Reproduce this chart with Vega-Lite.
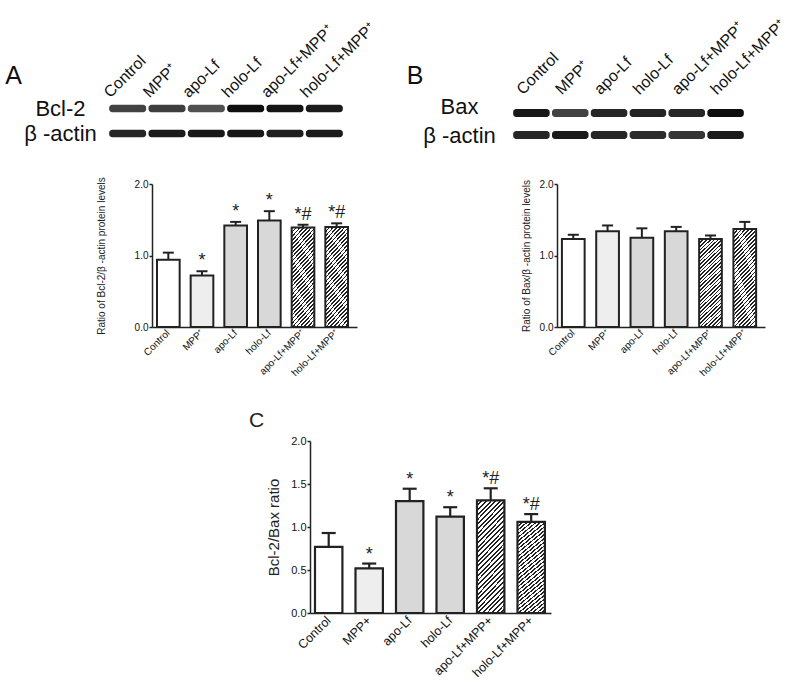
{
  "$schema": "https://vega.github.io/schema/vega-lite/v6.json",
  "padding": {"left": 3, "top": 16, "right": 5, "bottom": 5},
  "config": {
    "view": {"stroke": null},
    "font": "Liberation Sans",
    "axis": {"grid": false, "labelFont": "Liberation Sans", "titleFont": "Liberation Sans", "labelColor": "#111", "titleColor": "#222", "domainColor": "#222", "tickColor": "#222", "titleFontWeight": "normal", "labelOverlap": false},
    "text": {"font": "Liberation Sans"},
    "title": {"font": "Liberation Sans"}
  },
  "datasets": {
    "blotA": [
      {"lane": "Control", "protein": "Bcl-2", "intensity": 0.72},
      {"lane": "MPP⁺", "protein": "Bcl-2", "intensity": 0.74},
      {"lane": "apo-Lf", "protein": "Bcl-2", "intensity": 0.66},
      {"lane": "holo-Lf", "protein": "Bcl-2", "intensity": 0.96},
      {"lane": "apo-Lf+MPP⁺", "protein": "Bcl-2", "intensity": 0.93},
      {"lane": "holo-Lf+MPP⁺", "protein": "Bcl-2", "intensity": 0.9},
      {"lane": "Control", "protein": "β -actin", "intensity": 0.85},
      {"lane": "MPP⁺", "protein": "β -actin", "intensity": 0.9},
      {"lane": "apo-Lf", "protein": "β -actin", "intensity": 0.92},
      {"lane": "holo-Lf", "protein": "β -actin", "intensity": 0.92},
      {"lane": "apo-Lf+MPP⁺", "protein": "β -actin", "intensity": 0.88},
      {"lane": "holo-Lf+MPP⁺", "protein": "β -actin", "intensity": 0.9}
    ],
    "blotB": [
      {"lane": "Control", "protein": "Bax", "intensity": 0.92},
      {"lane": "MPP⁺", "protein": "Bax", "intensity": 0.72},
      {"lane": "apo-Lf", "protein": "Bax", "intensity": 0.85},
      {"lane": "holo-Lf", "protein": "Bax", "intensity": 0.86},
      {"lane": "apo-Lf+MPP⁺", "protein": "Bax", "intensity": 0.85},
      {"lane": "holo-Lf+MPP⁺", "protein": "Bax", "intensity": 0.96},
      {"lane": "Control", "protein": "β -actin", "intensity": 0.85},
      {"lane": "MPP⁺", "protein": "β -actin", "intensity": 0.9},
      {"lane": "apo-Lf", "protein": "β -actin", "intensity": 0.85},
      {"lane": "holo-Lf", "protein": "β -actin", "intensity": 0.82},
      {"lane": "apo-Lf+MPP⁺", "protein": "β -actin", "intensity": 0.78},
      {"lane": "holo-Lf+MPP⁺", "protein": "β -actin", "intensity": 0.9}
    ],
    "barA": [
      {"group": "Control", "value": 0.94, "hi": 1.04, "sig": ""},
      {"group": "MPP⁺", "value": 0.72, "hi": 0.78, "sig": "*"},
      {"group": "apo-Lf", "value": 1.42, "hi": 1.47, "sig": "*"},
      {"group": "holo-Lf", "value": 1.49, "hi": 1.62, "sig": "*"},
      {"group": "apo-Lf+MPP⁺", "value": 1.39, "hi": 1.43, "sig": "*#"},
      {"group": "holo-Lf+MPP⁺", "value": 1.4, "hi": 1.45, "sig": "*#"}
    ],
    "barB": [
      {"group": "Control", "value": 1.23, "hi": 1.29, "sig": ""},
      {"group": "MPP⁺", "value": 1.34, "hi": 1.42, "sig": ""},
      {"group": "apo-Lf", "value": 1.25, "hi": 1.38, "sig": ""},
      {"group": "holo-Lf", "value": 1.34, "hi": 1.4, "sig": ""},
      {"group": "apo-Lf+MPP⁺", "value": 1.23, "hi": 1.28, "sig": ""},
      {"group": "holo-Lf+MPP⁺", "value": 1.37, "hi": 1.47, "sig": ""}
    ],
    "barC": [
      {"group": "Control", "value": 0.77, "hi": 0.93, "sig": ""},
      {"group": "MPP+", "value": 0.52, "hi": 0.575, "sig": "*"},
      {"group": "apo-Lf", "value": 1.3, "hi": 1.445, "sig": "*"},
      {"group": "holo-Lf", "value": 1.12, "hi": 1.23, "sig": "*"},
      {"group": "apo-Lf+MPP+", "value": 1.31, "hi": 1.45, "sig": "*#"},
      {"group": "holo-Lf+MPP+", "value": 1.06, "hi": 1.15, "sig": "*#"}
    ]
  },
  "spacing": 25,
  "vconcat": [
    {
      "spacing": 0,
      "hconcat": [
        {"width": 1, "height": 1, "data": {"values": [{}]}, "mark": {"type": "rect", "opacity": 0}, "encoding": {}},
        {
          "spacing": 28,
          "hconcat": [
            {
              "width": 236, "height": 54.5,
              "data": {"name": "blotA"},
              "mark": {"type": "rect", "cornerRadius": 3},
              "encoding": {
                "x": {"field": "lane", "type": "nominal", "sort": null, "scale": {"paddingInner": 0.06, "paddingOuter": 0.03},
                  "axis": {"orient": "top", "title": null, "labelAngle": -45, "labelAlign": "left", "labelBaseline": "middle", "labelOffset": -21, "labelPadding": 1.5, "ticks": false, "tickSize": 0, "domain": false, "labelFontSize": 16, "labelColor": "#111"}},
                "y": {"field": "protein", "type": "nominal", "sort": null, "scale": {"paddingInner": 0.7, "paddingOuter": 0.44, "align": 0.398},
                  "axis": {"title": "A", "titleAngle": 0, "titleX": -95, "titleY": -13, "titleAlign": "center", "titleBaseline": "alphabetic", "titleFontSize": 25, "titleColor": "#111", "labelAlign": "center", "labelBaseline": "middle", "labelPadding": 48, "labelFontSize": 22, "labelColor": "#111", "ticks": false, "tickSize": 0, "domain": false}},
                "color": {"field": "intensity", "type": "quantitative", "scale": {"domain": [0, 1], "range": ["#ffffff", "#000000"]}, "legend": null}
              }
            },
            {
              "width": 233, "height": 54.5,
              "data": {"name": "blotB"},
              "mark": {"type": "rect", "cornerRadius": 3},
              "encoding": {
                "x": {"field": "lane", "type": "nominal", "sort": null, "scale": {"paddingInner": 0.06, "paddingOuter": 0.03},
                  "axis": {"orient": "top", "title": null, "labelAngle": -45, "labelAlign": "left", "labelBaseline": "middle", "labelOffset": -12, "labelPadding": 4.5, "ticks": false, "tickSize": 0, "domain": false, "labelFontSize": 16, "labelColor": "#111"}},
                "y": {"field": "protein", "type": "nominal", "sort": null, "scale": {"paddingInner": 0.636, "paddingOuter": 0.557, "align": 0.531},
                  "axis": {"title": "B", "titleAngle": 0, "titleX": -97.5, "titleY": -13, "titleAlign": "center", "titleBaseline": "alphabetic", "titleFontSize": 25, "titleColor": "#111", "labelAlign": "center", "labelBaseline": "middle", "labelPadding": 53, "labelFontSize": 22, "labelColor": "#111", "labelOffset": {"condition": {"test": "datum.value === 'Bax'", "value": -6}, "value": 1}, "ticks": false, "tickSize": 0, "domain": false}},
                "color": {"field": "intensity", "type": "quantitative", "scale": {"domain": [0, 1], "range": ["#ffffff", "#000000"]}, "legend": null}
              }
            }
          ]
        }
      ]
    },
    {
      "spacing": 0,
      "hconcat": [
        {"width": 93, "height": 201, "data": {"values": [{}]}, "mark": {"type": "rect", "opacity": 0}, "encoding": {}},
        {
          "spacing": 164,
          "hconcat": [
            {
              "width": 205, "height": 143,
              "data": {"name": "barA"},
              "encoding": {
                "x": {"field": "group", "type": "nominal", "sort": null, "scale": {"paddingInner": 0.327, "paddingOuter": 0.208, "align": 0.357},
                  "axis": {"title": null, "labelAngle": -45, "labelAlign": "right", "labelBaseline": "middle", "labelFontSize": 10, "labelPadding": 4, "ticks": false, "tickSize": 0, "domainWidth": 1.5}}
              },
              "layer": [
                {
                  "mark": {"type": "bar", "stroke": "#222", "strokeWidth": 2},
                  "encoding": {
                    "y": {"field": "value", "type": "quantitative", "title": "Ratio of Bcl-2/β -actin protein levels", "scale": {"domain": [0, 2], "nice": false},
                      "axis": {"values": [0, 0.5, 1, 1.5, 2], "format": ".1f", "labelFontSize": 10, "tickSize": 3, "tickWidth": 1.5, "domainWidth": 1.5, "labelPadding": 1, "titleFontSize": 10, "titlePadding": 28}},
                    "fill": {
                      "condition": [
                        {"test": "datum.group === 'Control'", "value": "#ffffff"},
                        {"test": "datum.group === 'MPP⁺'", "value": "#eeeeee"},
                        {"test": "datum.group === 'apo-Lf' || datum.group === 'holo-Lf'", "value": "#d8d8d8"}
                      ],
                      "value": {"gradient": "linear", "x1": 0, "y1": 0, "x2": 0.294, "y2": 1.176, "stops": [
                        {"offset":0,"color":"#222"},{"offset":0.014,"color":"#222"},{"offset":0.014,"color":"#fff"},{"offset":0.0333,"color":"#fff"},
                        {"offset":0.0333,"color":"#222"},{"offset":0.0473,"color":"#222"},{"offset":0.0473,"color":"#fff"},{"offset":0.0667,"color":"#fff"},
                        {"offset":0.0667,"color":"#222"},{"offset":0.0807,"color":"#222"},{"offset":0.0807,"color":"#fff"},{"offset":0.1,"color":"#fff"},
                        {"offset":0.1,"color":"#222"},{"offset":0.114,"color":"#222"},{"offset":0.114,"color":"#fff"},{"offset":0.1333,"color":"#fff"},
                        {"offset":0.1333,"color":"#222"},{"offset":0.1473,"color":"#222"},{"offset":0.1473,"color":"#fff"},{"offset":0.1667,"color":"#fff"},
                        {"offset":0.1667,"color":"#222"},{"offset":0.1807,"color":"#222"},{"offset":0.1807,"color":"#fff"},{"offset":0.2,"color":"#fff"},
                        {"offset":0.2,"color":"#222"},{"offset":0.214,"color":"#222"},{"offset":0.214,"color":"#fff"},{"offset":0.2333,"color":"#fff"},
                        {"offset":0.2333,"color":"#222"},{"offset":0.2473,"color":"#222"},{"offset":0.2473,"color":"#fff"},{"offset":0.2667,"color":"#fff"},
                        {"offset":0.2667,"color":"#222"},{"offset":0.2807,"color":"#222"},{"offset":0.2807,"color":"#fff"},{"offset":0.3,"color":"#fff"},
                        {"offset":0.3,"color":"#222"},{"offset":0.314,"color":"#222"},{"offset":0.314,"color":"#fff"},{"offset":0.3333,"color":"#fff"},
                        {"offset":0.3333,"color":"#222"},{"offset":0.3473,"color":"#222"},{"offset":0.3473,"color":"#fff"},{"offset":0.3667,"color":"#fff"},
                        {"offset":0.3667,"color":"#222"},{"offset":0.3807,"color":"#222"},{"offset":0.3807,"color":"#fff"},{"offset":0.4,"color":"#fff"},
                        {"offset":0.4,"color":"#222"},{"offset":0.414,"color":"#222"},{"offset":0.414,"color":"#fff"},{"offset":0.4333,"color":"#fff"},
                        {"offset":0.4333,"color":"#222"},{"offset":0.4473,"color":"#222"},{"offset":0.4473,"color":"#fff"},{"offset":0.4667,"color":"#fff"},
                        {"offset":0.4667,"color":"#222"},{"offset":0.4807,"color":"#222"},{"offset":0.4807,"color":"#fff"},{"offset":0.5,"color":"#fff"},
                        {"offset":0.5,"color":"#222"},{"offset":0.514,"color":"#222"},{"offset":0.514,"color":"#fff"},{"offset":0.5333,"color":"#fff"},
                        {"offset":0.5333,"color":"#222"},{"offset":0.5473,"color":"#222"},{"offset":0.5473,"color":"#fff"},{"offset":0.5667,"color":"#fff"},
                        {"offset":0.5667,"color":"#222"},{"offset":0.5807,"color":"#222"},{"offset":0.5807,"color":"#fff"},{"offset":0.6,"color":"#fff"},
                        {"offset":0.6,"color":"#222"},{"offset":0.614,"color":"#222"},{"offset":0.614,"color":"#fff"},{"offset":0.6333,"color":"#fff"},
                        {"offset":0.6333,"color":"#222"},{"offset":0.6473,"color":"#222"},{"offset":0.6473,"color":"#fff"},{"offset":0.6667,"color":"#fff"},
                        {"offset":0.6667,"color":"#222"},{"offset":0.6807,"color":"#222"},{"offset":0.6807,"color":"#fff"},{"offset":0.7,"color":"#fff"},
                        {"offset":0.7,"color":"#222"},{"offset":0.714,"color":"#222"},{"offset":0.714,"color":"#fff"},{"offset":0.7333,"color":"#fff"},
                        {"offset":0.7333,"color":"#222"},{"offset":0.7473,"color":"#222"},{"offset":0.7473,"color":"#fff"},{"offset":0.7667,"color":"#fff"},
                        {"offset":0.7667,"color":"#222"},{"offset":0.7807,"color":"#222"},{"offset":0.7807,"color":"#fff"},{"offset":0.8,"color":"#fff"},
                        {"offset":0.8,"color":"#222"},{"offset":0.814,"color":"#222"},{"offset":0.814,"color":"#fff"},{"offset":0.8333,"color":"#fff"},
                        {"offset":0.8333,"color":"#222"},{"offset":0.8473,"color":"#222"},{"offset":0.8473,"color":"#fff"},{"offset":0.8667,"color":"#fff"},
                        {"offset":0.8667,"color":"#222"},{"offset":0.8807,"color":"#222"},{"offset":0.8807,"color":"#fff"},{"offset":0.9,"color":"#fff"},
                        {"offset":0.9,"color":"#222"},{"offset":0.914,"color":"#222"},{"offset":0.914,"color":"#fff"},{"offset":0.9333,"color":"#fff"},
                        {"offset":0.9333,"color":"#222"},{"offset":0.9473,"color":"#222"},{"offset":0.9473,"color":"#fff"},{"offset":0.9667,"color":"#fff"},
                        {"offset":0.9667,"color":"#222"},{"offset":0.9807,"color":"#222"},{"offset":0.9807,"color":"#fff"},{"offset":1,"color":"#fff"}
                      ]}
                    }
                  }
                },
                {"mark": {"type": "rule", "stroke": "#222", "strokeWidth": 2}, "encoding": {"y": {"field": "value", "type": "quantitative", "title": "Ratio of Bcl-2/β -actin protein levels"}, "y2": {"field": "hi"}}},
                {"mark": {"type": "tick", "orient": "horizontal", "size": 11, "thickness": 2, "color": "#222", "opacity": 1}, "encoding": {"y": {"field": "hi", "type": "quantitative", "title": "Ratio of Bcl-2/β -actin protein levels"}}},
                {"mark": {"type": "text", "fontSize": 18, "dy": -5, "baseline": "alphabetic", "align": "center", "color": "#222"}, "encoding": {"y": {"field": "hi", "type": "quantitative", "title": "Ratio of Bcl-2/β -actin protein levels"}, "text": {"field": "sig"}}}
              ]
            },
            {
              "width": 208, "height": 143,
              "data": {"name": "barB"},
              "encoding": {
                "x": {"field": "group", "type": "nominal", "sort": null, "scale": {"paddingInner": 0.338, "paddingOuter": 0.201, "align": 0.357},
                  "axis": {"title": null, "labelAngle": -45, "labelAlign": "right", "labelBaseline": "middle", "labelFontSize": 10, "labelPadding": 4, "ticks": false, "tickSize": 0, "domainWidth": 1.5}}
              },
              "layer": [
                {
                  "mark": {"type": "bar", "stroke": "#222", "strokeWidth": 2},
                  "encoding": {
                    "y": {"field": "value", "type": "quantitative", "title": "Ratio of Bax/β -actin protein levels", "scale": {"domain": [0, 2], "nice": false},
                      "axis": {"values": [0, 0.5, 1, 1.5, 2], "format": ".1f", "labelFontSize": 10, "tickSize": 3, "tickWidth": 1.5, "domainWidth": 1.5, "labelPadding": 1, "titleFontSize": 10, "titlePadding": 8}},
                    "fill": {
                      "condition": [
                        {"test": "datum.group === 'Control'", "value": "#ffffff"},
                        {"test": "datum.group === 'MPP⁺'", "value": "#eeeeee"},
                        {"test": "datum.group === 'apo-Lf' || datum.group === 'holo-Lf'", "value": "#d8d8d8"}
                      ],
                      "value": {"gradient": "linear", "x1": 0, "y1": 0, "x2": 0.294, "y2": 1.176, "stops": [
                        {"offset":0,"color":"#222"},{"offset":0.014,"color":"#222"},{"offset":0.014,"color":"#fff"},{"offset":0.0333,"color":"#fff"},
                        {"offset":0.0333,"color":"#222"},{"offset":0.0473,"color":"#222"},{"offset":0.0473,"color":"#fff"},{"offset":0.0667,"color":"#fff"},
                        {"offset":0.0667,"color":"#222"},{"offset":0.0807,"color":"#222"},{"offset":0.0807,"color":"#fff"},{"offset":0.1,"color":"#fff"},
                        {"offset":0.1,"color":"#222"},{"offset":0.114,"color":"#222"},{"offset":0.114,"color":"#fff"},{"offset":0.1333,"color":"#fff"},
                        {"offset":0.1333,"color":"#222"},{"offset":0.1473,"color":"#222"},{"offset":0.1473,"color":"#fff"},{"offset":0.1667,"color":"#fff"},
                        {"offset":0.1667,"color":"#222"},{"offset":0.1807,"color":"#222"},{"offset":0.1807,"color":"#fff"},{"offset":0.2,"color":"#fff"},
                        {"offset":0.2,"color":"#222"},{"offset":0.214,"color":"#222"},{"offset":0.214,"color":"#fff"},{"offset":0.2333,"color":"#fff"},
                        {"offset":0.2333,"color":"#222"},{"offset":0.2473,"color":"#222"},{"offset":0.2473,"color":"#fff"},{"offset":0.2667,"color":"#fff"},
                        {"offset":0.2667,"color":"#222"},{"offset":0.2807,"color":"#222"},{"offset":0.2807,"color":"#fff"},{"offset":0.3,"color":"#fff"},
                        {"offset":0.3,"color":"#222"},{"offset":0.314,"color":"#222"},{"offset":0.314,"color":"#fff"},{"offset":0.3333,"color":"#fff"},
                        {"offset":0.3333,"color":"#222"},{"offset":0.3473,"color":"#222"},{"offset":0.3473,"color":"#fff"},{"offset":0.3667,"color":"#fff"},
                        {"offset":0.3667,"color":"#222"},{"offset":0.3807,"color":"#222"},{"offset":0.3807,"color":"#fff"},{"offset":0.4,"color":"#fff"},
                        {"offset":0.4,"color":"#222"},{"offset":0.414,"color":"#222"},{"offset":0.414,"color":"#fff"},{"offset":0.4333,"color":"#fff"},
                        {"offset":0.4333,"color":"#222"},{"offset":0.4473,"color":"#222"},{"offset":0.4473,"color":"#fff"},{"offset":0.4667,"color":"#fff"},
                        {"offset":0.4667,"color":"#222"},{"offset":0.4807,"color":"#222"},{"offset":0.4807,"color":"#fff"},{"offset":0.5,"color":"#fff"},
                        {"offset":0.5,"color":"#222"},{"offset":0.514,"color":"#222"},{"offset":0.514,"color":"#fff"},{"offset":0.5333,"color":"#fff"},
                        {"offset":0.5333,"color":"#222"},{"offset":0.5473,"color":"#222"},{"offset":0.5473,"color":"#fff"},{"offset":0.5667,"color":"#fff"},
                        {"offset":0.5667,"color":"#222"},{"offset":0.5807,"color":"#222"},{"offset":0.5807,"color":"#fff"},{"offset":0.6,"color":"#fff"},
                        {"offset":0.6,"color":"#222"},{"offset":0.614,"color":"#222"},{"offset":0.614,"color":"#fff"},{"offset":0.6333,"color":"#fff"},
                        {"offset":0.6333,"color":"#222"},{"offset":0.6473,"color":"#222"},{"offset":0.6473,"color":"#fff"},{"offset":0.6667,"color":"#fff"},
                        {"offset":0.6667,"color":"#222"},{"offset":0.6807,"color":"#222"},{"offset":0.6807,"color":"#fff"},{"offset":0.7,"color":"#fff"},
                        {"offset":0.7,"color":"#222"},{"offset":0.714,"color":"#222"},{"offset":0.714,"color":"#fff"},{"offset":0.7333,"color":"#fff"},
                        {"offset":0.7333,"color":"#222"},{"offset":0.7473,"color":"#222"},{"offset":0.7473,"color":"#fff"},{"offset":0.7667,"color":"#fff"},
                        {"offset":0.7667,"color":"#222"},{"offset":0.7807,"color":"#222"},{"offset":0.7807,"color":"#fff"},{"offset":0.8,"color":"#fff"},
                        {"offset":0.8,"color":"#222"},{"offset":0.814,"color":"#222"},{"offset":0.814,"color":"#fff"},{"offset":0.8333,"color":"#fff"},
                        {"offset":0.8333,"color":"#222"},{"offset":0.8473,"color":"#222"},{"offset":0.8473,"color":"#fff"},{"offset":0.8667,"color":"#fff"},
                        {"offset":0.8667,"color":"#222"},{"offset":0.8807,"color":"#222"},{"offset":0.8807,"color":"#fff"},{"offset":0.9,"color":"#fff"},
                        {"offset":0.9,"color":"#222"},{"offset":0.914,"color":"#222"},{"offset":0.914,"color":"#fff"},{"offset":0.9333,"color":"#fff"},
                        {"offset":0.9333,"color":"#222"},{"offset":0.9473,"color":"#222"},{"offset":0.9473,"color":"#fff"},{"offset":0.9667,"color":"#fff"},
                        {"offset":0.9667,"color":"#222"},{"offset":0.9807,"color":"#222"},{"offset":0.9807,"color":"#fff"},{"offset":1,"color":"#fff"}
                      ]}
                    }
                  }
                },
                {"mark": {"type": "rule", "stroke": "#222", "strokeWidth": 2}, "encoding": {"y": {"field": "value", "type": "quantitative", "title": "Ratio of Bax/β -actin protein levels"}, "y2": {"field": "hi"}}},
                {"mark": {"type": "tick", "orient": "horizontal", "size": 11, "thickness": 2, "color": "#222", "opacity": 1}, "encoding": {"y": {"field": "hi", "type": "quantitative", "title": "Ratio of Bax/β -actin protein levels"}}}
              ]
            }
          ]
        }
      ]
    },
    {
      "spacing": 0,
      "hconcat": [
        {"width": 246, "height": 10, "data": {"values": [{}]}, "mark": {"type": "rect", "opacity": 0}, "encoding": {}},
        {
          "width": 241, "height": 172,
          "title": {"text": "C", "anchor": "start", "frame": "group", "dx": -61, "offset": 4, "fontSize": 21, "fontWeight": "normal", "color": "#222"},
          "data": {"name": "barC"},
          "encoding": {
            "x": {"field": "group", "type": "nominal", "sort": null, "scale": {"paddingInner": 0.323, "paddingOuter": 0.137, "align": 0.45},
              "axis": {"title": null, "labelAngle": -45, "labelAlign": "right", "labelBaseline": "middle", "labelFontSize": 12.5, "labelPadding": 5, "ticks": false, "tickSize": 0, "domainWidth": 1.5}}
          },
          "layer": [
            {
              "mark": {"type": "bar", "stroke": "#222", "strokeWidth": 2.2},
              "encoding": {
                "y": {"field": "value", "type": "quantitative", "title": "Bcl-2/Bax ratio", "scale": {"domain": [0, 2], "nice": false},
                  "axis": {"values": [0, 0.5, 1, 1.5, 2], "format": ".1f", "labelFontSize": 11, "tickSize": 3, "tickWidth": 1.5, "domainWidth": 1.5, "labelPadding": 1, "titleFontSize": 15, "titlePadding": 9}},
                "fill": {
                  "condition": [
                    {"test": "datum.group === 'Control'", "value": "#ffffff"},
                    {"test": "datum.group === 'MPP+'", "value": "#eeeeee"},
                    {"test": "datum.group === 'apo-Lf' || datum.group === 'holo-Lf'", "value": "#d8d8d8"}
                  ],
                  "value": {"gradient": "linear", "x1": 0, "y1": 0, "x2": 0.294, "y2": 1.176, "stops": [
                    {"offset":0,"color":"#222"},{"offset":0.014,"color":"#222"},{"offset":0.014,"color":"#fff"},{"offset":0.0333,"color":"#fff"},
                    {"offset":0.0333,"color":"#222"},{"offset":0.0473,"color":"#222"},{"offset":0.0473,"color":"#fff"},{"offset":0.0667,"color":"#fff"},
                    {"offset":0.0667,"color":"#222"},{"offset":0.0807,"color":"#222"},{"offset":0.0807,"color":"#fff"},{"offset":0.1,"color":"#fff"},
                    {"offset":0.1,"color":"#222"},{"offset":0.114,"color":"#222"},{"offset":0.114,"color":"#fff"},{"offset":0.1333,"color":"#fff"},
                    {"offset":0.1333,"color":"#222"},{"offset":0.1473,"color":"#222"},{"offset":0.1473,"color":"#fff"},{"offset":0.1667,"color":"#fff"},
                    {"offset":0.1667,"color":"#222"},{"offset":0.1807,"color":"#222"},{"offset":0.1807,"color":"#fff"},{"offset":0.2,"color":"#fff"},
                    {"offset":0.2,"color":"#222"},{"offset":0.214,"color":"#222"},{"offset":0.214,"color":"#fff"},{"offset":0.2333,"color":"#fff"},
                    {"offset":0.2333,"color":"#222"},{"offset":0.2473,"color":"#222"},{"offset":0.2473,"color":"#fff"},{"offset":0.2667,"color":"#fff"},
                    {"offset":0.2667,"color":"#222"},{"offset":0.2807,"color":"#222"},{"offset":0.2807,"color":"#fff"},{"offset":0.3,"color":"#fff"},
                    {"offset":0.3,"color":"#222"},{"offset":0.314,"color":"#222"},{"offset":0.314,"color":"#fff"},{"offset":0.3333,"color":"#fff"},
                    {"offset":0.3333,"color":"#222"},{"offset":0.3473,"color":"#222"},{"offset":0.3473,"color":"#fff"},{"offset":0.3667,"color":"#fff"},
                    {"offset":0.3667,"color":"#222"},{"offset":0.3807,"color":"#222"},{"offset":0.3807,"color":"#fff"},{"offset":0.4,"color":"#fff"},
                    {"offset":0.4,"color":"#222"},{"offset":0.414,"color":"#222"},{"offset":0.414,"color":"#fff"},{"offset":0.4333,"color":"#fff"},
                    {"offset":0.4333,"color":"#222"},{"offset":0.4473,"color":"#222"},{"offset":0.4473,"color":"#fff"},{"offset":0.4667,"color":"#fff"},
                    {"offset":0.4667,"color":"#222"},{"offset":0.4807,"color":"#222"},{"offset":0.4807,"color":"#fff"},{"offset":0.5,"color":"#fff"},
                    {"offset":0.5,"color":"#222"},{"offset":0.514,"color":"#222"},{"offset":0.514,"color":"#fff"},{"offset":0.5333,"color":"#fff"},
                    {"offset":0.5333,"color":"#222"},{"offset":0.5473,"color":"#222"},{"offset":0.5473,"color":"#fff"},{"offset":0.5667,"color":"#fff"},
                    {"offset":0.5667,"color":"#222"},{"offset":0.5807,"color":"#222"},{"offset":0.5807,"color":"#fff"},{"offset":0.6,"color":"#fff"},
                    {"offset":0.6,"color":"#222"},{"offset":0.614,"color":"#222"},{"offset":0.614,"color":"#fff"},{"offset":0.6333,"color":"#fff"},
                    {"offset":0.6333,"color":"#222"},{"offset":0.6473,"color":"#222"},{"offset":0.6473,"color":"#fff"},{"offset":0.6667,"color":"#fff"},
                    {"offset":0.6667,"color":"#222"},{"offset":0.6807,"color":"#222"},{"offset":0.6807,"color":"#fff"},{"offset":0.7,"color":"#fff"},
                    {"offset":0.7,"color":"#222"},{"offset":0.714,"color":"#222"},{"offset":0.714,"color":"#fff"},{"offset":0.7333,"color":"#fff"},
                    {"offset":0.7333,"color":"#222"},{"offset":0.7473,"color":"#222"},{"offset":0.7473,"color":"#fff"},{"offset":0.7667,"color":"#fff"},
                    {"offset":0.7667,"color":"#222"},{"offset":0.7807,"color":"#222"},{"offset":0.7807,"color":"#fff"},{"offset":0.8,"color":"#fff"},
                    {"offset":0.8,"color":"#222"},{"offset":0.814,"color":"#222"},{"offset":0.814,"color":"#fff"},{"offset":0.8333,"color":"#fff"},
                    {"offset":0.8333,"color":"#222"},{"offset":0.8473,"color":"#222"},{"offset":0.8473,"color":"#fff"},{"offset":0.8667,"color":"#fff"},
                    {"offset":0.8667,"color":"#222"},{"offset":0.8807,"color":"#222"},{"offset":0.8807,"color":"#fff"},{"offset":0.9,"color":"#fff"},
                    {"offset":0.9,"color":"#222"},{"offset":0.914,"color":"#222"},{"offset":0.914,"color":"#fff"},{"offset":0.9333,"color":"#fff"},
                    {"offset":0.9333,"color":"#222"},{"offset":0.9473,"color":"#222"},{"offset":0.9473,"color":"#fff"},{"offset":0.9667,"color":"#fff"},
                    {"offset":0.9667,"color":"#222"},{"offset":0.9807,"color":"#222"},{"offset":0.9807,"color":"#fff"},{"offset":1,"color":"#fff"}
                  ]}
                }
              }
            },
            {"mark": {"type": "rule", "stroke": "#222", "strokeWidth": 2.2}, "encoding": {"y": {"field": "value", "type": "quantitative", "title": "Bcl-2/Bax ratio"}, "y2": {"field": "hi"}}},
            {"mark": {"type": "tick", "orient": "horizontal", "size": 14, "thickness": 2.2, "color": "#222", "opacity": 1}, "encoding": {"y": {"field": "hi", "type": "quantitative", "title": "Bcl-2/Bax ratio"}}},
            {"mark": {"type": "text", "fontSize": 18, "dy": -4, "baseline": "alphabetic", "align": "center", "color": "#222"}, "encoding": {"y": {"field": "hi", "type": "quantitative", "title": "Bcl-2/Bax ratio"}, "text": {"field": "sig"}}}
          ]
        }
      ]
    }
  ]
}
